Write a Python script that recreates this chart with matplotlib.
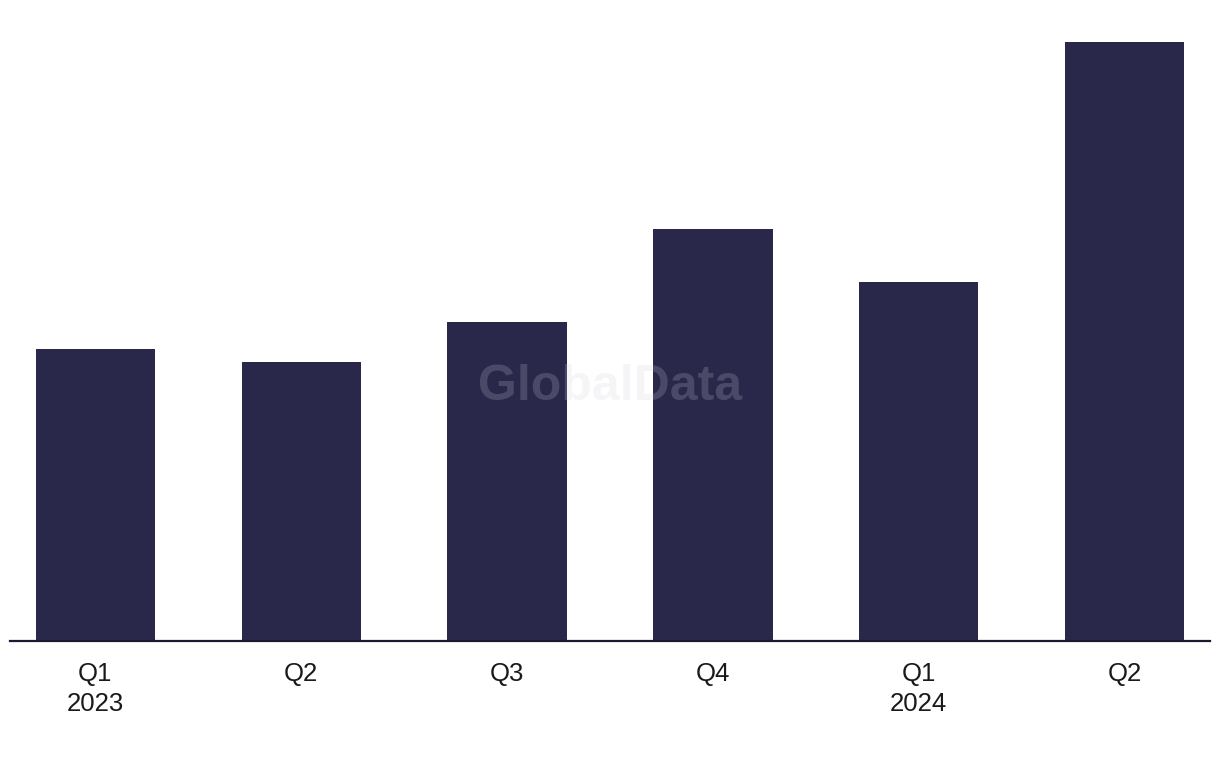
import matplotlib
matplotlib.use("Agg")
import matplotlib.pyplot as plt

# quarters and relative values (no y axis shown in the source)
quarters = ["Q1\n2023", "Q2", "Q3", "Q4", "Q1\n2024", "Q2"]
values = [292, 279, 319, 412, 359, 599]

bar_color = "#29284b"

plt.rcParams['font.family'] = ['Liberation Sans', 'DejaVu Sans']

fig = plt.figure(figsize=(12.2, 7.68), dpi=100)
ax = fig.add_axes([10 / 1220, 127 / 768, 1200 / 1220, 599 / 768])

x = list(range(len(values)))
ax.bar(x, values, width=0.58, color=bar_color, zorder=2)

ax.set_xlim(-0.415, 5.415)
ax.set_ylim(0, 599)
ax.set_xticks(x)
ax.set_xticklabels(quarters, fontsize=18.5, color="#1a1a1a", linespacing=1.3)
ax.tick_params(axis="x", length=0, pad=15)
ax.set_yticks([])

for side in ["top", "right", "left"]:
    ax.spines[side].set_visible(False)
ax.spines["bottom"].set_linewidth(1.6)
ax.spines["bottom"].set_color("#1a1a2e")
ax.spines["bottom"].set_zorder(3)

# watermark
fig.text(610 / 1220, 1 - 387 / 768, "GlobalData", fontsize=36, fontweight="bold",
         color="#d0d0d8", alpha=0.2, ha="center", va="center", zorder=5)

fig.savefig("out.png", dpi=100)
